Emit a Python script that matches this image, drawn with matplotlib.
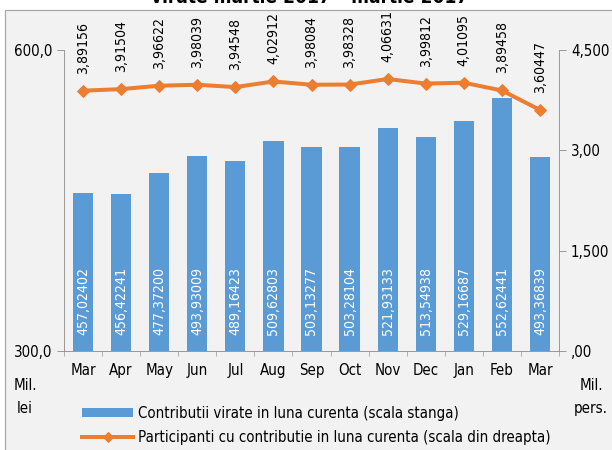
import matplotlib
matplotlib.use('Agg')
import matplotlib.pyplot as plt
from matplotlib.patches import Rectangle
from matplotlib.lines import Line2D
from matplotlib.patches import Patch
import numpy as np

plt.rcParams['font.family'] = ['Liberation Sans Narrow', 'DejaVu Sans']
plt.rcParams['font.stretch'] = 'condensed'

months = ['Mar', 'Apr', 'May', 'Jun', 'Jul', 'Aug', 'Sep', 'Oct', 'Nov', 'Dec', 'Jan', 'Feb', 'Mar']
contributii = [457.02402, 456.42241, 477.37200, 493.93009, 489.16423, 509.62803, 503.13277,
               503.28104, 521.93133, 513.54938, 529.16687, 552.62441, 493.36839]
participanti = [3.89156, 3.91504, 3.96622, 3.98039, 3.94548, 4.02912, 3.98084,
                3.98328, 4.06631, 3.99812, 4.01095, 3.89458, 3.60447]
left_ticks = [300, 600]
left_labels = ['300,0', '600,0']
right_ticks = [0, 1.5, 3.0, 4.5]
right_labels = [',00', '1,500', '3,00', '4,500']

blue = '#5B9BD5'
orange = '#ED7D31'
grey = '#868686'

W, H = 612, 450
fig = plt.figure(figsize=(W / 72, H / 72), dpi=72)
fig.patch.set_facecolor('white')

# grey chart box
fig.patches.append(Rectangle((5 / W, -0.05), 1.2, 1.05 - 10 / H, transform=fig.transFigure,
                             facecolor='#f2f2f2', edgecolor='#a6a6a6', lw=1.2, zorder=-5))

ax = fig.add_axes([64 / W, 99 / H, 495 / W, 301 / H])
ax.set_facecolor('none')
x = np.arange(len(months))
ax.bar(x, contributii, width=0.53, color=blue, zorder=2)
ax.set_xlim(-0.5, len(months) - 0.5)
ax.set_ylim(300, 600)
ax.set_yticks(left_ticks)
ax.set_yticklabels(left_labels, fontsize=15)
ax.set_xticks(x)
ax.set_xticklabels(months, fontsize=15)
ax.set_xticks(np.arange(-0.5, len(months)), minor=True)
ax.tick_params(axis='x', which='major', length=0, pad=12)
ax.tick_params(axis='x', which='minor', length=5, color=grey, direction='out')
ax.tick_params(axis='y', length=7, color=grey, pad=5)
for s in ['top', 'right']:
    ax.spines[s].set_visible(False)
for s in ['left', 'bottom']:
    ax.spines[s].set_color(grey)

for i, v in enumerate(contributii):
    ax.text(i, 316, f'{v:.5f}'.replace('.', ','), rotation=90, ha='center', va='bottom',
            color='white', fontsize=14, zorder=3)

ax2 = ax.twinx()
ax2.plot(x, participanti, color=orange, lw=4, marker='D', markersize=9, zorder=4)
ax2.set_ylim(0, 4.5)
ax2.set_yticks(right_ticks)
ax2.set_yticklabels(right_labels, fontsize=15)
ax2.tick_params(axis='y', length=7, color=grey, pad=5)
for s in ['top', 'left', 'bottom']:
    ax2.spines[s].set_visible(False)
ax2.spines['right'].set_color(grey)

for i, v in enumerate(participanti):
    ax2.annotate(f'{v:.5f}'.replace('.', ','), (i, v), xytext=(0, 17), textcoords='offset points',
                 rotation=90, ha='center', va='bottom', fontsize=14, annotation_clip=False)

fig.text(310 / W, 1 - 3 / H, 'virate martie 2017 \u2013 martie 2017', ha='center', va='baseline',
         fontsize=19, fontweight='bold')

fig.text(25 / W, 1 - 397 / H, 'Mil.\nlei', ha='center', va='center', fontsize=15, linespacing=1.6)
fig.text(591 / W, 1 - 397 / H, 'Mil.\npers.', ha='center', va='center', fontsize=15, linespacing=1.6)

handles = [Patch(facecolor=blue), Line2D([], [], color=orange, lw=4, marker='D', markersize=7)]
labels = ['Contributii virate in luna curenta (scala stanga)',
          'Participanti cu contributie in luna curenta (scala din dreapta)']
fig.legend(handles, labels, loc='upper left', bbox_to_anchor=(76 / W, 1 - 400 / H), frameon=False,
           fontsize=15, handlelength=3.4, handleheight=0.6, handletextpad=0.3, labelspacing=0.6,
           borderaxespad=0)

fig.savefig('out.png', dpi=72)
